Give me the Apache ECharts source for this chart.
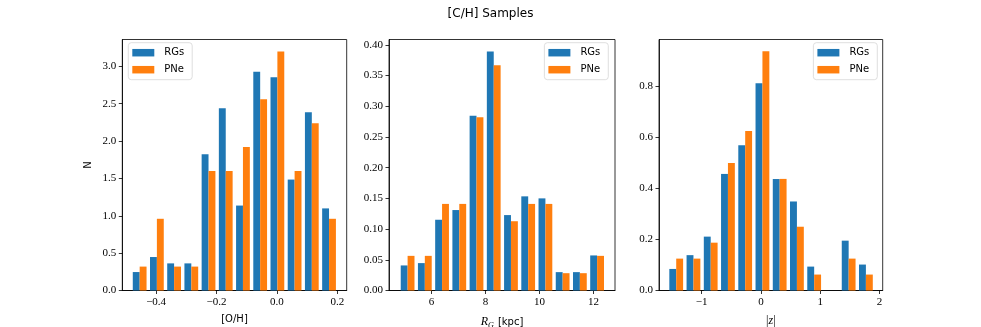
<!DOCTYPE html>
<html>
<head>
<meta charset="utf-8">
<script src="https://cdn.jsdelivr.net/npm/echarts@6/dist/echarts.min.js"></script>
<style>
html,body{margin:0;padding:0;background:#fff;}
#chart{width:981px;height:327px;}
</style>
</head>
<body>
<div id="chart"></div>
<script>
// ---- data ----
const seriesNames = ['RGs', 'PNe'];
const titleText = '[C/H] Samples';

// panel 1: [O/H]
const ohEdges = [-0.483, -0.426, -0.369, -0.312, -0.255, -0.198, -0.141, -0.084, -0.027, 0.030, 0.087, 0.144, 0.201];
const ohRG  = [0.247, 0.448, 0.363, 0.363, 1.823, 2.439, 1.137, 2.929, 2.853, 1.485, 2.385, 1.099];
const ohPNe = [0.32, 0.96, 0.32, 0.32, 1.60, 1.60, 1.92, 2.56, 3.20, 1.60, 2.24, 0.96];
const ohXTicks = [-0.4, -0.2, 0.0, 0.2];
const ohYTicks = [0, 0.5, 1.0, 1.5, 2.0, 2.5, 3.0];

// panel 2: R_G [kpc]
const rgEdges = [4.800, 5.438, 6.076, 6.714, 7.352, 7.990, 8.628, 9.266, 9.904, 10.542, 11.180, 11.818, 12.456];
const rgRG  = [0.0408, 0.0446, 0.1152, 0.1310, 0.2846, 0.3892, 0.1228, 0.1533, 0.1500, 0.0299, 0.0299, 0.0571];
const rgPNe = [0.0564, 0.0564, 0.1410, 0.1410, 0.2820, 0.3666, 0.1128, 0.1410, 0.1410, 0.0282, 0.0282, 0.0564];
const rgXTicks = [6, 8, 10, 12];
const rgYTicks = [0, 0.05, 0.10, 0.15, 0.20, 0.25, 0.30, 0.35, 0.40];

// panel 3: |z|
const zEdges = [-1.575, -1.284, -0.993, -0.702, -0.411, -0.120, 0.171, 0.462, 0.753, 1.044, 1.335, 1.626, 1.917];
const zRG  = [0.0845, 0.1386, 0.2112, 0.457, 0.569, 0.812, 0.437, 0.349, 0.0937, 0, 0.1954, 0.1017];
const zPNe = [0.125, 0.125, 0.1875, 0.5, 0.625, 0.9375, 0.4375, 0.25, 0.0625, 0, 0.125, 0.0625];
const zXTicks = [-1, 0, 1, 2];
const zYTicks = [0, 0.2, 0.4, 0.6, 0.8];

// ---- styling ----
const COLORS = ['#1f77b4', '#ff7f0e'];
const SERIF = 'Liberation Serif';
const SANS = 'DejaVu Sans';

function fmt(dec) {
  return function (v) { return Number(v).toFixed(dec).replace('-', '\u2212'); };
}

const panels = [
  {edges: ohEdges, a: ohRG, b: ohPNe, xt: ohXTicks, yt: ohYTicks, xdec: 1, ydec: 1,
   xmin: -0.512, xmax: 0.231, ymax: 3.36, left: 122.3, width: 224.4,
   xname: '[O/H]', yname: 'N', legendRight: null, legendLeft: 128.3},
  {edges: rgEdges, a: rgRG, b: rgPNe, xt: rgXTicks, yt: rgYTicks, xdec: 0, ydec: 2,
   xmin: 4.43, xmax: 12.80, ymax: 0.4087, left: 389, width: 226,
   xname: '{i|R}{s|G} [kpc]', yname: '', legendRight: 372.7, legendLeft: null},
  {edges: zEdges, a: zRG, b: zPNe, xt: zXTicks, yt: zYTicks, xdec: 0, ydec: 1,
   xmin: -1.72, xmax: 2.055, ymax: 0.984, left: 659, width: 223.7,
   xname: '{n||}{i|z}{n||}', yname: '', legendRight: 103.7, legendLeft: null}
];

const grids = [], xAxes = [], yAxes = [], series = [], legends = [];
const tickStyle = {show: true, inside: false, length: 3.5, lineStyle: {color: '#000', width: 0.8}};

panels.forEach(function (p, pi) {
  grids.push({left: p.left, top: 39.5, width: p.width, height: 251,
    outerBoundsMode: 'none', containLabel: false,
    show: true, borderColor: '#000', borderWidth: 0.8, backgroundColor: 'transparent'});
  xAxes.push({
    type: 'value', gridIndex: pi, min: p.xmin, max: p.xmax,
    axisLine: {show: true, onZero: false, lineStyle: {color: '#000', width: 0.8}},
    axisTick: Object.assign({customValues: p.xt}, tickStyle),
    axisLabel: {customValues: p.xt, formatter: fmt(p.xdec), color: '#000',
      fontFamily: SERIF, fontSize: 11, margin: 6},
    splitLine: {show: false},
    name: p.xname, nameLocation: 'middle', nameGap: 24,
    nameTextStyle: {fontFamily: SANS, fontSize: 10, color: '#000',
      rich: {
        i: {fontFamily: SERIF, fontStyle: 'italic', fontSize: 12, color: '#000'},
        s: {fontFamily: SERIF, fontStyle: 'italic', fontSize: 8, color: '#000', padding: [7, 1, 0, 0]},
        n: {fontFamily: SERIF, fontSize: 12, color: '#000'}
      }}
  });
  yAxes.push({
    type: 'value', gridIndex: pi, min: 0, max: p.ymax,
    axisLine: {show: true, onZero: false, lineStyle: {color: '#000', width: 0.8}},
    axisTick: Object.assign({customValues: p.yt}, tickStyle),
    axisLabel: {customValues: p.yt, formatter: fmt(p.ydec), color: '#000',
      fontFamily: SERIF, fontSize: 11, margin: 6},
    splitLine: {show: false},
    name: p.yname, nameLocation: 'middle', nameGap: 29, nameRotate: 90,
    nameTextStyle: {fontFamily: SANS, fontSize: 10, color: '#000'}
  });
  [p.a, p.b].forEach(function (vals, k) {
    const data = vals.map(function (v, i) { return [p.edges[i], p.edges[i + 1], v]; });
    series.push({
      type: 'custom', name: seriesNames[k], xAxisIndex: pi, yAxisIndex: pi,
      itemStyle: {color: COLORS[k]},
      encode: {x: [0, 1], y: 2},
      data: data,
      renderItem: function (params, api) {
        const e0 = api.value(0), e1 = api.value(1), v = api.value(2);
        const w = e1 - e0;
        const x0 = e0 + 0.1 * w + k * 0.4 * w;
        const x1 = x0 + 0.4 * w;
        const pA = api.coord([x0, v]);
        const pB = api.coord([x1, 0]);
        return {type: 'rect',
          shape: {x: pA[0], y: pA[1], width: pB[0] - pA[0], height: pB[1] - pA[1]},
          style: {fill: COLORS[k]}};
      }
    });
  });
  const lg = {
    data: seriesNames, top: 42.7, orient: 'vertical',
    icon: 'rect', itemWidth: 22, itemHeight: 7.5, itemGap: 5,
    padding: [4, 8, 4, 4], borderColor: '#d6d6d6', borderWidth: 0.8, borderRadius: 3,
    backgroundColor: 'rgba(255,255,255,0.8)',
    textStyle: {fontFamily: SANS, fontSize: 10, color: '#000', lineHeight: 12, padding: [0, 0, 0, 5]},
    selectedMode: false
  };
  if (p.legendLeft !== null) lg.left = p.legendLeft; else lg.right = p.legendRight;
  legends.push(lg);
});

const chart = echarts.init(document.getElementById('chart'), null, {renderer: 'canvas'});
chart.setOption({
  animation: false,
  backgroundColor: '#fff',
  title: {text: titleText, left: 'center', top: 8, padding: 0,
    textStyle: {fontFamily: SANS, fontSize: 12, fontWeight: 'normal', color: '#000'}},
  legend: legends,
  grid: grids,
  xAxis: xAxes,
  yAxis: yAxes,
  series: series
});
</script>
</body>
</html>
